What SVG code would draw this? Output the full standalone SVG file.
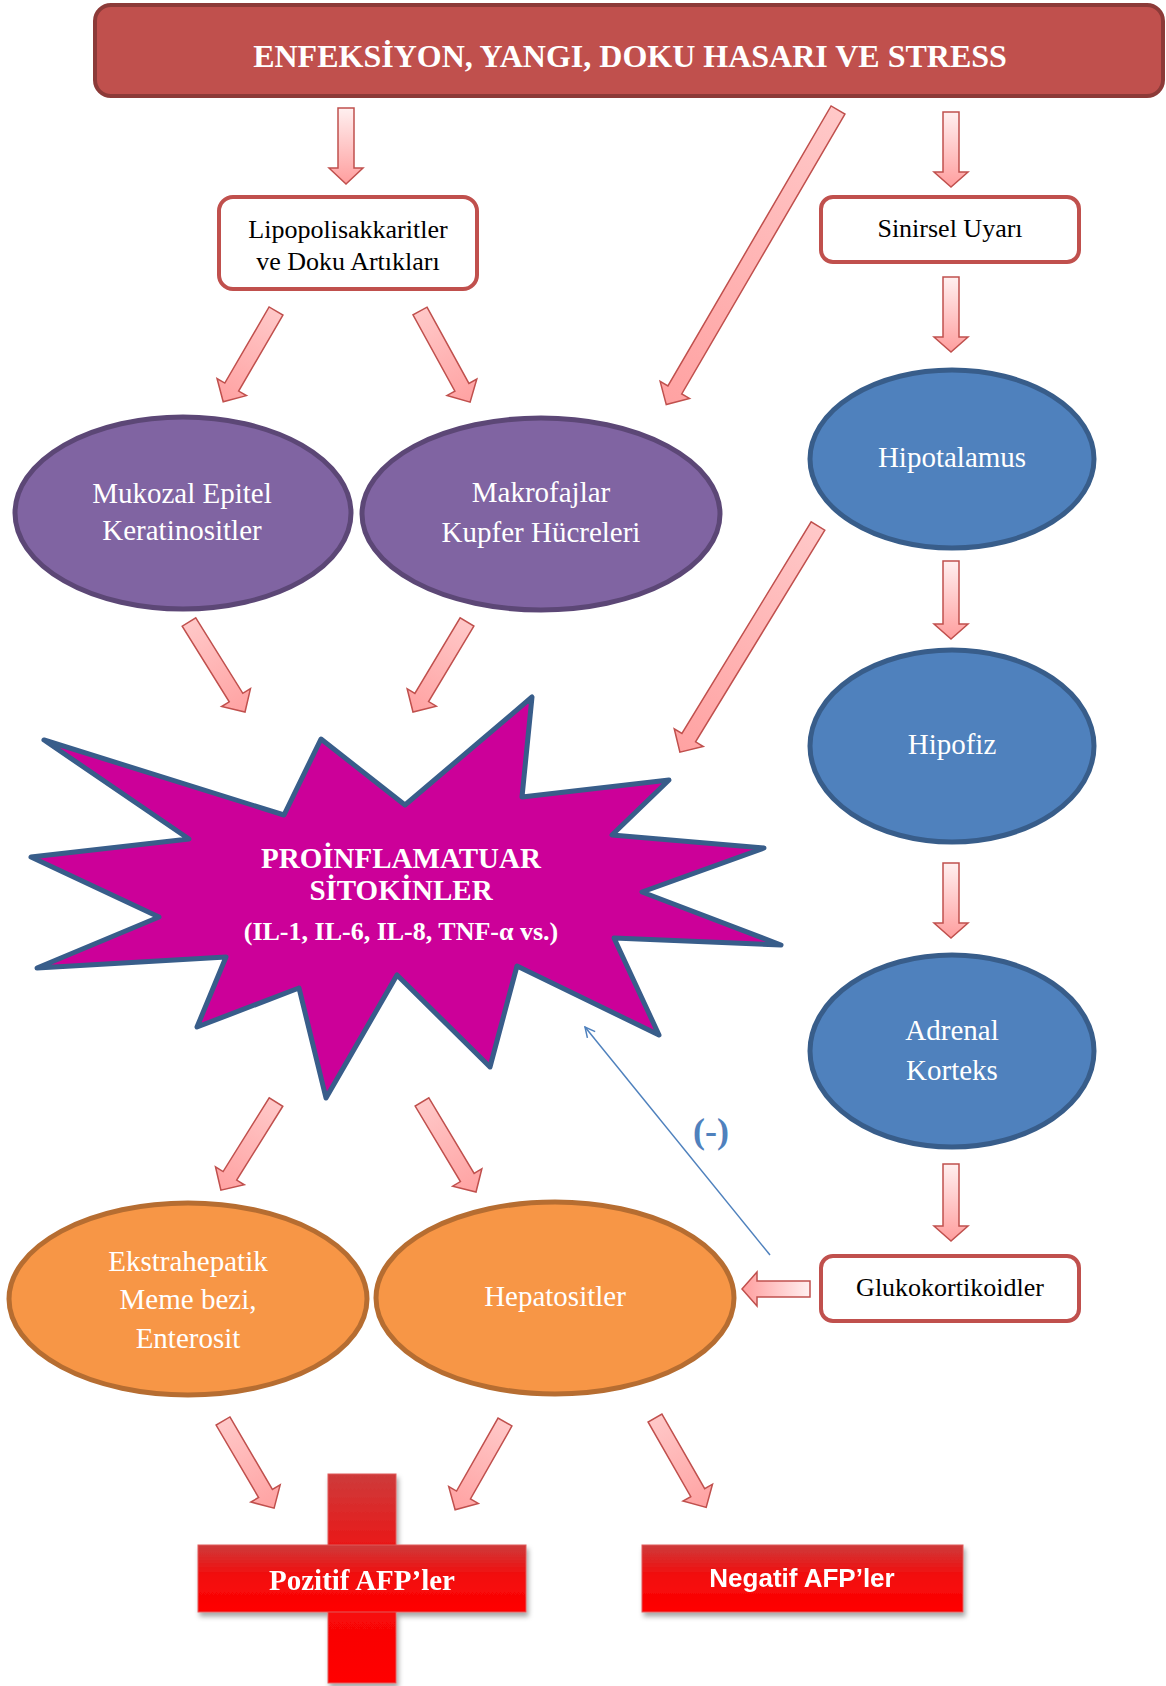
<svg xmlns="http://www.w3.org/2000/svg" width="1166" height="1686" viewBox="0 0 1166 1686">
<defs>
<linearGradient id="gv" x1="0" y1="0" x2="1" y2="0"><stop offset="0" stop-color="#fff0f0"/><stop offset="1" stop-color="#ff9e9e"/></linearGradient>
<linearGradient id="gd" x1="0" y1="0" x2="1" y2="0"><stop offset="0" stop-color="#ffc8c8"/><stop offset="1" stop-color="#ffa2a2"/></linearGradient>
<linearGradient id="gr" x1="0" y1="0" x2="0" y2="1"><stop offset="0" stop-color="#cd3b3b"/><stop offset="0.45" stop-color="#f20d0d"/><stop offset="1" stop-color="#ff0000"/></linearGradient>
<filter id="sh" x="-10%" y="-10%" width="130%" height="130%"><feDropShadow dx="2" dy="4" stdDeviation="2.5" flood-color="#000" flood-opacity="0.35"/></filter>
<marker id="open" viewBox="0 0 12 12" refX="11" refY="6" markerWidth="12" markerHeight="12" markerUnits="userSpaceOnUse" orient="auto"><path d="M1,1 L11,6 L1,11" fill="none" stroke="#4f81bd" stroke-width="1.5"/></marker>
</defs>
<style>
.ser{font-family:"Liberation Serif","Times New Roman",serif}
.wt{fill:#fff}
.bk{fill:#000}
.ar{stroke:#c0504d;stroke-width:1.5;stroke-linejoin:miter}
.box{fill:#fff;stroke:#c0504d;stroke-width:4}
.pur{fill:#8064a2;stroke:#5c4776;stroke-width:5}
.blu{fill:#4f81bd;stroke:#385d8a;stroke-width:5}
.org{fill:#f79646;stroke:#b66d31;stroke-width:5}
</style>

<g id="title">
<rect x="95" y="5" width="1068" height="91" rx="16" fill="#c0504d" stroke="#8c3a38" stroke-width="4"/>
<text class="ser wt" x="630" y="67" font-size="32" font-weight="bold" text-anchor="middle">ENFEKSİYON, YANGI, DOKU HASARI VE STRESS</text>
</g>

<g id="lipo">
<rect class="box" x="219" y="197" width="258" height="92" rx="14"/>
<text class="ser bk" x="348" y="238" font-size="26" text-anchor="middle">Lipopolisakkaritler</text>
<text class="ser bk" x="348" y="270" font-size="26" text-anchor="middle">ve Doku Artıkları</text>
</g>

<g id="sinirsel">
<rect class="box" x="821" y="197" width="258" height="65" rx="12"/>
<text class="ser bk" x="950" y="237" font-size="26" text-anchor="middle">Sinirsel Uyarı</text>
</g>

<g id="mukozal">
<ellipse class="pur" cx="183" cy="513" rx="168" ry="96"/>
<text class="ser wt" x="182" y="503" font-size="29" text-anchor="middle">Mukozal Epitel</text>
<text class="ser wt" x="182" y="540" font-size="29" text-anchor="middle">Keratinositler</text>
</g>

<g id="makrofajlar">
<ellipse class="pur" cx="541" cy="514" rx="179" ry="96"/>
<text class="ser wt" x="541" y="502" font-size="29" text-anchor="middle">Makrofajlar</text>
<text class="ser wt" x="541" y="542" font-size="29" text-anchor="middle">Kupfer Hücreleri</text>
</g>

<g id="hipotalamus">
<ellipse class="blu" cx="952" cy="459" rx="142" ry="89"/>
<text class="ser wt" x="952" y="467" font-size="29" text-anchor="middle">Hipotalamus</text>
</g>

<g id="hipofiz">
<ellipse class="blu" cx="952" cy="746" rx="142" ry="96"/>
<text class="ser wt" x="952" y="754" font-size="29" text-anchor="middle">Hipofiz</text>
</g>

<g id="adrenal">
<ellipse class="blu" cx="952" cy="1051" rx="142" ry="96"/>
<text class="ser wt" x="952" y="1040" font-size="29" text-anchor="middle">Adrenal</text>
<text class="ser wt" x="952" y="1080" font-size="29" text-anchor="middle">Korteks</text>
</g>

<g id="sitokinler">
<path d="M44,740 L284,815 L321,739 L405,805 L532,697 L522,797 L669,780 L612,835 L764,848 L642,892 L781,945 L614,938 L659,1035 L517,966 L490,1067 L397,975 L326,1098 L299,988 L197,1027 L226,957 L37,968 L159,917 L31,857 L189,839 Z" fill="#cc0099" stroke="#385d8a" stroke-width="5" stroke-linejoin="round"/>
<text class="ser wt" x="401" y="868" font-size="29" font-weight="bold" text-anchor="middle">PROİNFLAMATUAR</text>
<text class="ser wt" x="401" y="900" font-size="29" font-weight="bold" text-anchor="middle">SİTOKİNLER</text>
<text class="ser wt" x="401" y="940" font-size="26" font-weight="bold" text-anchor="middle">(IL-1, IL-6, IL-8, TNF-α vs.)</text>
</g>

<g id="glukokortikoidler">
<rect class="box" x="821" y="1256" width="258" height="65" rx="12"/>
<text class="ser bk" x="950" y="1296" font-size="26" text-anchor="middle">Glukokortikoidler</text>
</g>

<g id="ekstrahepatik">
<ellipse class="org" cx="188" cy="1299" rx="179" ry="96"/>
<text class="ser wt" x="188" y="1271" font-size="29" text-anchor="middle">Ekstrahepatik</text>
<text class="ser wt" x="188" y="1309" font-size="29" text-anchor="middle">Meme bezi,</text>
<text class="ser wt" x="188" y="1348" font-size="29" text-anchor="middle">Enterosit</text>
</g>

<g id="hepatositler">
<ellipse class="org" cx="555" cy="1298" rx="179" ry="96"/>
<text class="ser wt" x="555" y="1306" font-size="29" text-anchor="middle">Hepatositler</text>
</g>

<g id="pozitif" filter="url(#sh)">
<rect x="328" y="1474" width="68" height="209" fill="url(#gr)" stroke="#e05a5a" stroke-width="1"/>
<rect x="198" y="1545" width="328" height="67" fill="url(#gr)" stroke="#e05a5a" stroke-width="1"/>
<text class="ser wt" x="362" y="1590" font-size="29" font-weight="bold" text-anchor="middle">Pozitif AFP’ler</text>
</g>

<g id="negatif" filter="url(#sh)">
<rect x="642" y="1545" width="321" height="67" fill="url(#gr)" stroke="#e05a5a" stroke-width="1"/>
<text x="802" y="1587" font-family="'Liberation Sans',Arial,sans-serif" font-size="26" font-weight="bold" fill="#fff" text-anchor="middle">Negatif AFP’ler</text>
</g>

<g id="connectors">
<path class="ar" fill="url(#gv)" transform="translate(346,108) rotate(90)" d="M0,-8 H60 V-17 L76,0 L60,17 V8 H0 Z"/>
<path class="ar" fill="url(#gd)" transform="translate(838,110) rotate(120.24)" d="M0,-8 H324 V-17 L341,0 L324,17 V8 H0 Z"/>
<path class="ar" fill="url(#gv)" transform="translate(951,112) rotate(90)" d="M0,-8 H60 V-17 L75,0 L60,17 V8 H0 Z"/>
<path class="ar" fill="url(#gv)" transform="translate(951,277) rotate(90)" d="M0,-8 H60 V-17 L75,0 L60,17 V8 H0 Z"/>
<path class="ar" fill="url(#gv)" transform="translate(951,561) rotate(90)" d="M0,-8 H63 V-17 L78,0 L63,17 V8 H0 Z"/>
<path class="ar" fill="url(#gv)" transform="translate(951,863) rotate(90)" d="M0,-8 H60 V-17 L75,0 L60,17 V8 H0 Z"/>
<path class="ar" fill="url(#gv)" transform="translate(951,1164) rotate(90)" d="M0,-8 H62 V-17 L77,0 L62,17 V8 H0 Z"/>
<path class="ar" fill="url(#gv)" transform="translate(810,1289) rotate(180)" d="M0,-8 H53 V-17 L68,0 L53,17 V8 H0 Z"/>
<path class="ar" fill="url(#gd)" transform="translate(276,311) rotate(120.2)" d="M0,-8 H88 V-17 L105,0 L88,17 V8 H0 Z"/>
<path class="ar" fill="url(#gd)" transform="translate(420,311) rotate(61.2)" d="M0,-8 H87 V-17 L104,0 L87,17 V8 H0 Z"/>
<path class="ar" fill="url(#gd)" transform="translate(189,622) rotate(58.1)" d="M0,-8 H89 V-17 L106,0 L89,17 V8 H0 Z"/>
<path class="ar" fill="url(#gd)" transform="translate(467,622) rotate(120.96)" d="M0,-8 H88 V-17 L105,0 L88,17 V8 H0 Z"/>
<path class="ar" fill="url(#gd)" transform="translate(818,526) rotate(121.41)" d="M0,-8 H248 V-17 L265,0 L248,17 V8 H0 Z"/>
<path class="ar" fill="url(#gd)" transform="translate(276,1102) rotate(122)" d="M0,-8 H87 V-17 L104,0 L87,17 V8 H0 Z"/>
<path class="ar" fill="url(#gd)" transform="translate(422,1102) rotate(59.04)" d="M0,-8 H88 V-17 L105,0 L88,17 V8 H0 Z"/>
<path class="ar" fill="url(#gd)" transform="translate(223,1421) rotate(59.6)" d="M0,-8 H84 V-17 L101,0 L84,17 V8 H0 Z"/>
<path class="ar" fill="url(#gd)" transform="translate(505,1422) rotate(119.6)" d="M0,-8 H84 V-17 L101,0 L84,17 V8 H0 Z"/>
<path class="ar" fill="url(#gd)" transform="translate(655,1418) rotate(60.2)" d="M0,-8 H86 V-17 L103,0 L86,17 V8 H0 Z"/>
<line x1="770" y1="1255" x2="585" y2="1027" stroke="#4f81bd" stroke-width="1.5" marker-end="url(#open)"/>
<text class="ser" x="711" y="1143" font-size="36" font-weight="bold" fill="#4f81bd" text-anchor="middle">(-)</text>
</g>
</svg>
